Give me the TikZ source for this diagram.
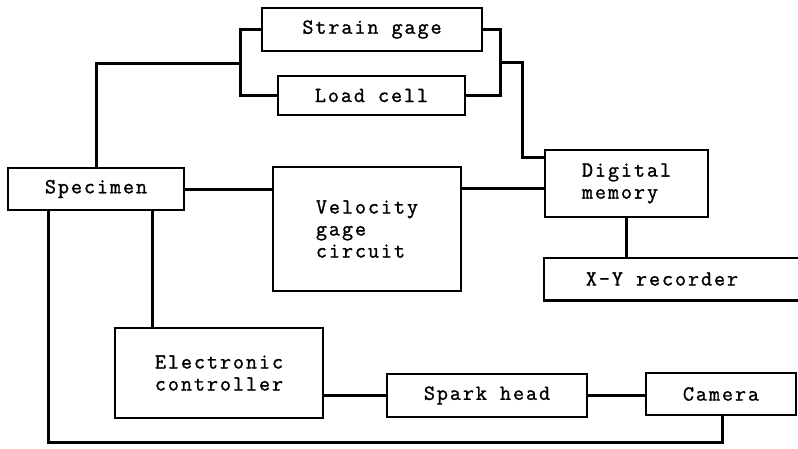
\documentclass[tikz,border=0pt]{standalone}
\usepackage{fontspec}
\setmonofont[LetterSpace=9,FakeBold=1.3]{Latin Modern Mono}
\usetikzlibrary{calc}
\begin{document}
\begin{tikzpicture}[x=1pt,y=-1pt,
  box/.style={draw, line width=2.6pt, inner sep=0pt, font=\ttfamily\fontsize{21.5}{22}\selectfont},
  plain/.style={inner sep=0pt, font=\ttfamily\fontsize{21.5}{22}\selectfont},
  wire/.style={line width=3pt}]
\useasboundingbox (0,0) rectangle (798,448);
\node[box, minimum width=220pt, minimum height=43pt] (strain) at (372,29.5) {Strain gage};
\node[box, minimum width=187pt, minimum height=39pt] (load) at (371.5,95.5) {Load cell};
\node[box, minimum width=176pt, minimum height=42pt] (spec) at (96,189) {Specimen};
\node[box, minimum width=188pt, minimum height=124pt, align=left] (vel) at (367,229) {Velocity\\gage\\circuit};
\node[box, minimum width=163pt, minimum height=67pt, align=left] (dig) at (626.5,183.5) {Digital\\memory};
\node[plain, minimum width=236pt, minimum height=42pt] (xy) at (662,279) {X-Y recorder};
\draw[line width=2.6pt] ($(xy.north east)+(18,0)$) -- (xy.north west) -- (xy.south west) -- ($(xy.south east)+(18,0)$);
\node[box, minimum width=208pt, minimum height=90pt, align=center] (ctrl) at (219,373) {Electronic\\controller};
\node[box, minimum width=200pt, minimum height=43pt] (spark) at (487,395.5) {Spark head};
\node[box, minimum width=150pt, minimum height=42pt] (camera) at (721,394) {Camera};
\coordinate (jl) at (240,63);
\coordinate (jr) at (500,62);
\coordinate (jd) at (522,157);
\coordinate (loopl) at (48,442);
\coordinate (loopr) at (722,442);
\draw[wire] (strain.west) -| (jl) |- (load.west);
\draw[wire] (jl) -| (spec.north);
\draw[wire] (strain.east) -| (jr) |- (load.east);
\draw[wire] (jr) -| (jd) -- (jd -| dig.west);
\draw[wire] (spec.east) -- (vel.west |- spec.east);
\draw[wire] (vel.east |- 0,188) -- (dig.west |- 0,188);
\draw[wire] (dig.south) -- (dig.south |- xy.north);
\draw[wire] (spec.south -| 152,0) -- (ctrl.north -| 152,0);
\draw[wire] (spec.south -| loopl) -- (loopl) -- (loopr) -- (camera.south -| loopr);
\draw[wire] (ctrl.east |- spark.west) -- (spark.west);
\draw[wire] (spark.east) -- (camera.west |- spark.east);
\end{tikzpicture}
\end{document}
